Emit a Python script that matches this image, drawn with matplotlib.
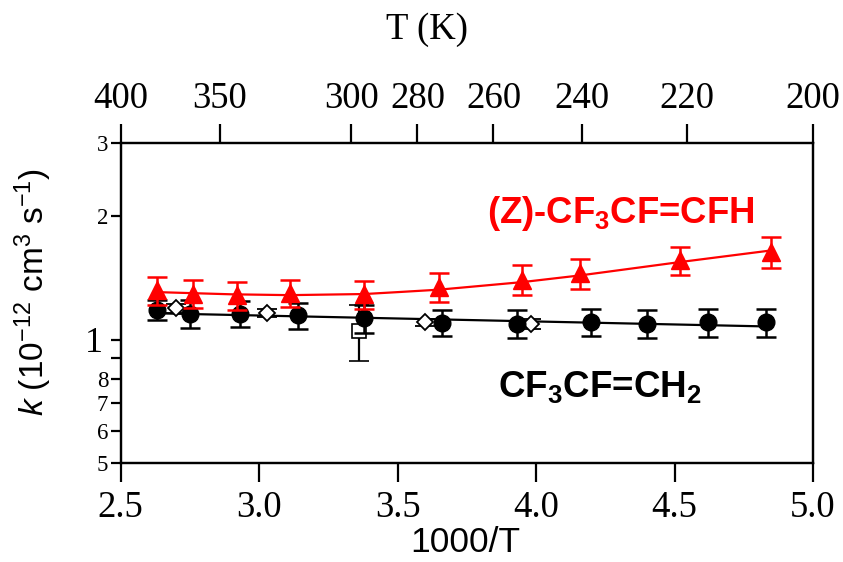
import matplotlib
matplotlib.use("Agg")
import matplotlib.pyplot as plt
from matplotlib.ticker import FixedLocator, NullLocator, FixedFormatter

# ---- data (k in units of 1e-12 cm^3 s^-1) ----
red_x = [2.63, 2.76, 2.92, 3.11, 3.38, 3.65, 3.95, 4.16, 4.52, 4.85]
red_k = [1.316, 1.292, 1.280, 1.297, 1.288, 1.341, 1.398, 1.450, 1.558, 1.632]
red_err = [0.10, 0.10, 0.10, 0.10, 0.10, 0.11, 0.116, 0.12, 0.125, 0.14]

black_x = [2.63, 2.75, 2.93, 3.14, 3.38, 3.66, 3.93, 4.20, 4.40, 4.62, 4.83]
black_k = [1.18, 1.155, 1.155, 1.145, 1.125, 1.097, 1.092, 1.102, 1.092, 1.100, 1.100]
black_err = [0.065, 0.09, 0.085, 0.085, 0.085, 0.08, 0.085, 0.085, 0.085, 0.085, 0.085]

dia_x = [2.70, 3.03, 3.60, 3.98]
dia_k = [1.19, 1.16, 1.10, 1.09]
dia_err = [0.03, 0.025, 0.02, 0.03]

sq_x = [3.36]
sq_k = [1.05]
sq_err = [0.163]

red_fit_x = [2.63, 2.90, 3.11, 3.38, 3.51, 3.65, 3.95, 4.16, 4.52, 4.85]
red_fit_k = [1.304, 1.288, 1.282, 1.290, 1.305, 1.322, 1.379, 1.432, 1.543, 1.647]
black_fit_x = [2.63, 4.83]
black_fit_k = [1.158, 1.076]

x_ticks = [2.5, 3.0, 3.5, 4.0, 4.5, 5.0]
x_ticklabels = ["2.5", "3.0", "3.5", "4.0", "4.5", "5.0"]
y_ticks = [0.5, 0.6, 0.7, 0.8, 0.9, 1.0, 2.0, 3.0]
y_ticklabels = ["5", "6", "7", "8", "", "1", "2", "3"]
T_ticks = [400, 350, 300, 280, 260, 240, 220, 200]
T_ticklabels = ["400", "350", "300", "280", "260", "240", "220", "200"]

# ---- style ----
plt.rcParams['mathtext.fontset'] = 'custom'
plt.rcParams['mathtext.rm'] = 'Liberation Sans'
plt.rcParams['mathtext.it'] = 'Liberation Sans:italic'
plt.rcParams['mathtext.bf'] = 'Liberation Sans:bold'

SERIF = 'Liberation Serif'
SANS = 'Liberation Sans'
DPI = 100

fig = plt.figure(figsize=(8.43, 5.62), dpi=DPI)
ax = fig.add_axes([120.7/843, 1-463.3/562, (813-120.7)/843, (463.3-143.3)/562])

ax.set_yscale('log')
ax.set_xlim(2.5, 5.0)
ax.set_ylim(0.5, 3.0)

# fit lines
ax.plot(black_fit_x, black_fit_k, color='black', lw=1.6, zorder=2)
ax.plot(red_fit_x, red_fit_k, color='red', lw=1.6, zorder=4)

# open symbols
ax.errorbar(sq_x, sq_k, yerr=sq_err, fmt='s', mfc='white', mec='black', mew=1.2,
            ms=10, ecolor='black', elinewidth=1.6, capsize=7, capthick=1.6, zorder=2.5)
ax.errorbar(dia_x, dia_k, yerr=dia_err, fmt='D', mfc='white', mec='black', mew=1.3,
            ms=8.5, ecolor='black', elinewidth=1.6, capsize=7, capthick=1.6, zorder=2.6)

# filled symbols
ax.errorbar(black_x, black_k, yerr=black_err, fmt='o', color='black', ms=12,
            elinewidth=1.8, capsize=7, capthick=1.8, zorder=3)
ax.errorbar(red_x, red_k, yerr=red_err, fmt='^', color='red', ms=12.5,
            elinewidth=1.8, capsize=7, capthick=1.8, zorder=5)

# spines
for s in ax.spines.values():
    s.set_linewidth(1.6)

# x axis (bottom)
ax.xaxis.set_major_locator(FixedLocator(x_ticks))
ax.xaxis.set_major_formatter(FixedFormatter(x_ticklabels))
ax.xaxis.set_minor_locator(NullLocator())
ax.tick_params(axis='x', which='major', direction='out', length=13.5, width=1.6,
               labelsize=26.5, pad=6, top=False)
for lab in ax.get_xticklabels():
    lab.set_fontfamily(SERIF)

# y axis
ax.yaxis.set_major_locator(FixedLocator(y_ticks))
ax.yaxis.set_major_formatter(FixedFormatter(y_ticklabels))
ax.yaxis.set_minor_locator(NullLocator())
ax.tick_params(axis='y', which='major', direction='out', length=7, width=1.6,
               labelsize=16.5, pad=2, right=False)
for lab, t in zip(ax.get_yticklabels(), y_ticks):
    lab.set_fontfamily(SERIF)
    if t == 1.0:
        lab.set_fontsize(26)
for tl, t in zip(ax.yaxis.get_major_ticks(), y_ticks):
    if t == 1.0:
        tl.tick1line.set_markersize(14)
        tl.set_pad(6)

ax.set_xlabel('1000/T', fontfamily=SANS, fontsize=25.5)
ax.xaxis.set_label_coords((465 - 120.7) / 692.3, (463.3 - 526) / 320)
ax.set_ylabel(r'$k$ (10$^{-12}$ cm$^{3}$ s$^{-1}$)', fontfamily=SANS, fontsize=24)
ax.yaxis.set_label_coords((54 - 120.7) / 692.3, (463.3 - 292) / 320)

# top axis: temperature
ax2 = ax.twiny()
ax2.set_xlim(ax.get_xlim())
ax2.xaxis.set_major_locator(FixedLocator([1000.0 / t for t in T_ticks]))
ax2.xaxis.set_major_formatter(FixedFormatter(T_ticklabels))
ax2.xaxis.set_minor_locator(NullLocator())
ax2.tick_params(axis='x', direction='out', length=13.5, width=1.6, labelsize=26.5, pad=6)
for lab in ax2.get_xticklabels():
    lab.set_fontfamily(SERIF)
for s in ax2.spines.values():
    s.set_linewidth(1.6)
fig.text(427/843, 1-30/562, 'T (K)', fontfamily=SERIF, fontsize=26.5, ha='center', va='center')

# annotations
fig.text(487/843, 1-223/562, r'(Z)-CF$_{\mathbf{3}}$CF=CFH', color='red', fontfamily=SANS,
         fontweight='bold', fontsize=26.3, ha='left', va='baseline')
fig.text(498/843, 1-397/562, r'CF$_{\mathbf{3}}$CF=CH$_{\mathbf{2}}$', color='black', fontfamily=SANS,
         fontweight='bold', fontsize=26.5, ha='left', va='baseline')

fig.savefig('out.png', dpi=DPI)
